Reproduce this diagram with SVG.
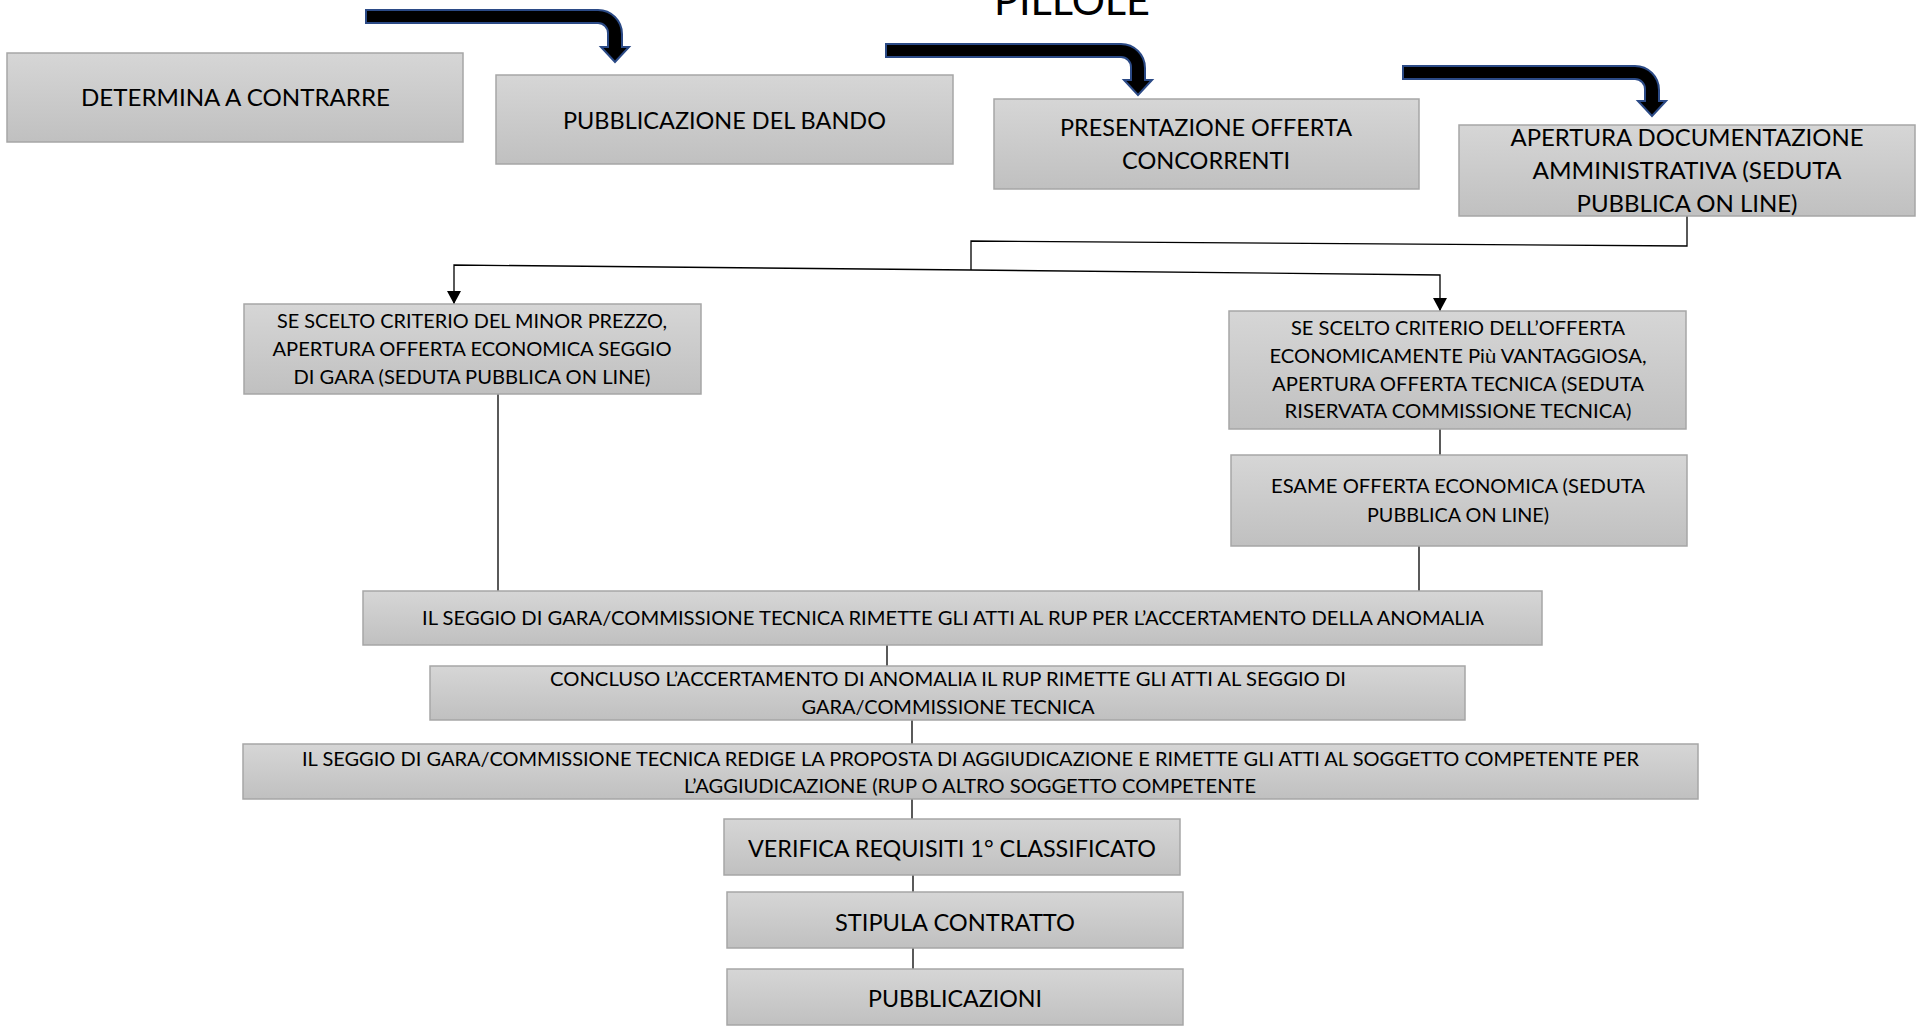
<svg xmlns="http://www.w3.org/2000/svg" width="1922" height="1032" viewBox="0 0 1922 1032">
<defs>
<linearGradient id="g" x1="0" y1="0" x2="0" y2="1">
<stop offset="0" stop-color="#d6d6d6"/>
<stop offset="1" stop-color="#c0c0c0"/>
</linearGradient>
<marker id="ah" markerUnits="userSpaceOnUse" markerWidth="14" markerHeight="14" viewBox="0 0 14 14" refX="13" refY="7" orient="auto">
<path d="M0,0 L13,7 L0,14 Z" fill="#000"/>
</marker>
<style>
.box{fill:url(#g);stroke:#a6a6a6;stroke-width:1.5}
.t{font-family:Lato,"Open Sans","Liberation Sans",sans-serif;fill:#000;text-anchor:middle}
.big{font-size:24px}
.mid{font-size:18.5px}
.sm{font-size:19px}
.ln{fill:none;stroke:#000;stroke-width:1.3}
.bar{fill:#000;stroke:#2b4a86;stroke-width:2}
</style>
</defs>
<rect width="1922" height="1032" fill="#fff"/>
<text x="1072" y="15" class="t" style="font-size:40px" textLength="156" lengthAdjust="spacingAndGlyphs">PILLOLE</text>
<g id="bent-arrows">
<path class="bar" d="M366,10 H598 A24,24 0 0 1 622,34 V47 H629 L615,62 L601,47 H608 V33 A10,10 0 0 0 598,23 H366 Z"/>
<path class="bar" d="M886,44 H1121 A24,24 0 0 1 1145,68 V80 H1152 L1138,95 L1124,80 H1131 V67 A10,10 0 0 0 1121,57 H886 Z"/>
<path class="bar" d="M1403,66 H1635 A24,24 0 0 1 1659,90 V101 H1666 L1652,116 L1638,101 H1645 V89 A10,10 0 0 0 1635,79 H1403 Z"/>
</g>
<g id="connectors">
<path class="ln" d="M1687,216 V246 L971,241 V270"/>
<path class="ln" d="M971,270 L454,265 V304" marker-end="url(#ah)"/>
<path class="ln" d="M971,270 L1440,275 V311" marker-end="url(#ah)"/>
<path class="ln" d="M498,394 V591"/>
<path class="ln" d="M1440,429 V455"/>
<path class="ln" d="M1419,546 V591"/>
<path class="ln" d="M887,645 V666"/>
<path class="ln" d="M912,720 V744"/>
<path class="ln" d="M912,799 V819"/>
<path class="ln" d="M913,875 V892"/>
<path class="ln" d="M913,948 V969"/>
</g>
<g id="n1">
<rect class="box" x="7" y="53" width="456" height="89"/>
<text class="t big" x="235.5" y="106" textLength="309" lengthAdjust="spacingAndGlyphs">DETERMINA A CONTRARRE</text>
</g>
<g id="n2">
<rect class="box" x="496" y="75" width="457" height="89"/>
<text class="t big" x="724.5" y="128.5" textLength="323" lengthAdjust="spacingAndGlyphs">PUBBLICAZIONE DEL BANDO</text>
</g>
<g id="n3">
<rect class="box" x="994" y="99" width="425" height="90"/>
<text class="t big" x="1206" y="136" textLength="292" lengthAdjust="spacingAndGlyphs">PRESENTAZIONE OFFERTA</text>
<text class="t big" x="1206" y="169" textLength="168" lengthAdjust="spacingAndGlyphs">CONCORRENTI</text>
</g>
<g id="n4">
<rect class="box" x="1459" y="125" width="456" height="91"/>
<text class="t big" x="1687" y="146" textLength="353" lengthAdjust="spacingAndGlyphs">APERTURA DOCUMENTAZIONE</text>
<text class="t big" x="1687" y="179" textLength="309" lengthAdjust="spacingAndGlyphs">AMMINISTRATIVA (SEDUTA</text>
<text class="t big" x="1687" y="212" textLength="221" lengthAdjust="spacingAndGlyphs">PUBBLICA ON LINE)</text>
</g>
<g id="n5">
<rect class="box" x="244" y="304" width="457" height="90"/>
<text class="t mid" x="472" y="328" textLength="390" lengthAdjust="spacingAndGlyphs">SE SCELTO CRITERIO DEL MINOR PREZZO,</text>
<text class="t mid" x="472" y="356" textLength="399" lengthAdjust="spacingAndGlyphs">APERTURA OFFERTA ECONOMICA SEGGIO</text>
<text class="t mid" x="472" y="384" textLength="357" lengthAdjust="spacingAndGlyphs">DI GARA (SEDUTA PUBBLICA ON LINE)</text>
</g>
<g id="n6">
<rect class="box" x="1229" y="311" width="457" height="118"/>
<text class="t mid" x="1458" y="335" textLength="334" lengthAdjust="spacingAndGlyphs">SE SCELTO CRITERIO DELL’OFFERTA</text>
<text class="t mid" x="1458" y="363" textLength="377" lengthAdjust="spacingAndGlyphs">ECONOMICAMENTE Più VANTAGGIOSA,</text>
<text class="t mid" x="1458" y="391" textLength="372" lengthAdjust="spacingAndGlyphs">APERTURA OFFERTA TECNICA (SEDUTA</text>
<text class="t mid" x="1458" y="418" textLength="347" lengthAdjust="spacingAndGlyphs">RISERVATA COMMISSIONE TECNICA)</text>
</g>
<g id="n7">
<rect class="box" x="1231" y="455" width="456" height="91"/>
<text class="t mid" x="1458" y="493" textLength="374" lengthAdjust="spacingAndGlyphs">ESAME OFFERTA ECONOMICA (SEDUTA</text>
<text class="t mid" x="1458" y="522" textLength="182" lengthAdjust="spacingAndGlyphs">PUBBLICA ON LINE)</text>
</g>
<g id="n8">
<rect class="box" x="363" y="591" width="1179" height="54"/>
<text class="t sm" x="953" y="625" textLength="1062" lengthAdjust="spacingAndGlyphs">IL SEGGIO DI GARA/COMMISSIONE TECNICA RIMETTE GLI ATTI AL RUP PER L’ACCERTAMENTO DELLA ANOMALIA</text>
</g>
<g id="n9">
<rect class="box" x="430" y="666" width="1035" height="54"/>
<text class="t sm" x="948" y="686" textLength="796" lengthAdjust="spacingAndGlyphs">CONCLUSO L’ACCERTAMENTO DI ANOMALIA IL RUP RIMETTE GLI ATTI AL SEGGIO DI</text>
<text class="t sm" x="948" y="714" textLength="293" lengthAdjust="spacingAndGlyphs">GARA/COMMISSIONE TECNICA</text>
</g>
<g id="n10">
<rect class="box" x="243" y="744" width="1455" height="55"/>
<text class="t sm" x="970.5" y="766" textLength="1337" lengthAdjust="spacingAndGlyphs">IL SEGGIO DI GARA/COMMISSIONE TECNICA REDIGE LA PROPOSTA DI AGGIUDICAZIONE E RIMETTE GLI ATTI AL SOGGETTO COMPETENTE PER</text>
<text class="t sm" x="970" y="793" textLength="572" lengthAdjust="spacingAndGlyphs">L’AGGIUDICAZIONE (RUP O ALTRO SOGGETTO COMPETENTE</text>
</g>
<g id="n11">
<rect class="box" x="724" y="819" width="456" height="56"/>
<text class="t big" x="952" y="857" textLength="408" lengthAdjust="spacingAndGlyphs">VERIFICA REQUISITI 1° CLASSIFICATO</text>
</g>
<g id="n12">
<rect class="box" x="727" y="892" width="456" height="56"/>
<text class="t big" x="955" y="931" textLength="240" lengthAdjust="spacingAndGlyphs">STIPULA CONTRATTO</text>
</g>
<g id="n13">
<rect class="box" x="727" y="969" width="456" height="56"/>
<text class="t big" x="955" y="1007" textLength="174" lengthAdjust="spacingAndGlyphs">PUBBLICAZIONI</text>
</g>
</svg>
